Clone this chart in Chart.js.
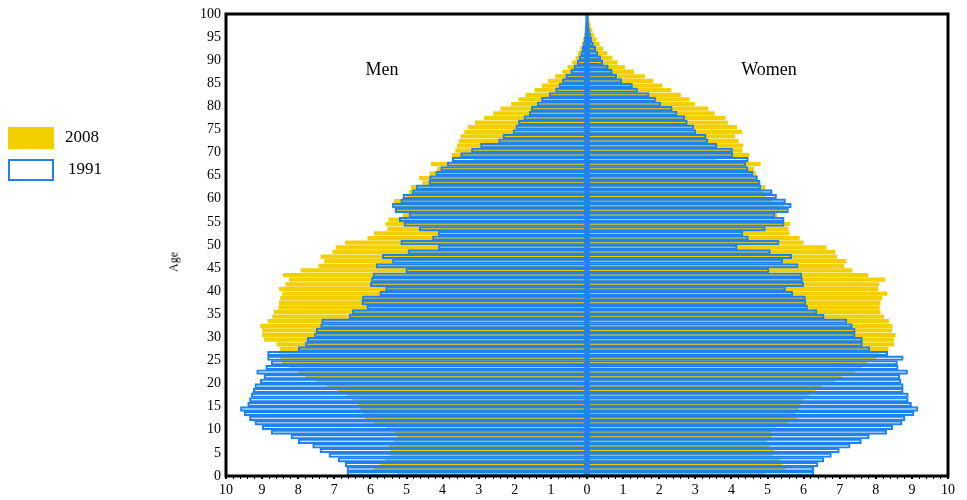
<!DOCTYPE html>
<html>
<head>
<meta charset="utf-8">
<script src="https://cdn.jsdelivr.net/npm/chart.js@4/dist/chart.umd.min.js"></script>
<style>
  body { margin: 0; background: #fff; }
  #wrap { position: relative; width: 967px; height: 500px; font-family: "Liberation Serif", serif; color: #000; }
  #pyramid { position: absolute; left: 0; top: 0; }
  .lbl { position: absolute; transform: translate(-50%, -50%); white-space: nowrap; }
  .sex { font-size: 18px; top: 69px; }
  #age { font-size: 12px; left: 174px; top: 262px; transform: translate(-50%, -50%) rotate(-90deg); }
  #legend { position: absolute; left: 7px; top: 127px; }
  #legend div { height: 32px; position: relative; font-size: 17px; }
  #legend span.box { position: absolute; left: 1px; width: 46px; height: 22px; box-sizing: border-box; }
  #legend span.txt { position: absolute; top: 10px; transform: translateY(-50%); }
</style>
</head>
<body>
<div id="wrap">
  <canvas id="pyramid" width="967" height="500"></canvas>
  <div class="lbl sex" style="left:382px">Men</div>
  <div class="lbl sex" style="left:769px">Women</div>
  <div class="lbl" id="age">Age</div>
  <div id="legend"></div>
</div>
<script>
let ages = [];
for (let a = 0; a < 100; a++) ages.push(a);

// percent of population by single year of age (0..99)
let men2008 = [5.25, 5.9, 5.75, 5.6, 5.45, 5.45, 5.5, 5.35, 5.25, 5.35,
  5.55, 5.9, 6.15, 6.2, 6.3, 6.35, 6.5, 6.65, 6.9, 7.2,
  7.5, 7.8, 8.0, 8.25, 8.45, 8.5, 8.55, 8.5, 8.6, 8.95,
  9.0, 9.0, 9.05, 8.85, 8.72, 8.67, 8.55, 8.53, 8.5, 8.44,
  8.53, 8.35, 8.25, 8.42, 7.93, 7.44, 7.28, 7.38, 7.05, 6.96,
  6.7, 6.08, 5.9, 5.53, 5.58, 5.5, 5.1, 5.3, 5.4, 5.35,
  5.0, 4.93, 4.88, 4.56, 4.65, 4.36, 4.15, 4.32, 3.15, 3.75,
  3.65, 3.6, 3.55, 3.5, 3.4, 3.3, 3.1, 2.85, 2.6, 2.4,
  2.1, 1.9, 1.7, 1.45, 1.25, 1.08, 0.88, 0.68, 0.54, 0.42,
  0.32, 0.25, 0.19, 0.14, 0.11, 0.08, 0.06, 0.04, 0.03, 0.02];

let women2008 = [4.94, 5.49, 5.41, 5.35, 5.14, 5.18, 5.05, 4.98, 5.12, 5.09,
  5.23, 5.56, 5.83, 5.76, 5.87, 5.92, 6.01, 6.15, 6.33, 6.51,
  6.86, 7.06, 7.41, 7.61, 7.75, 8.01, 8.1, 8.35, 8.51, 8.5,
  8.55, 8.45, 8.46, 8.37, 8.23, 8.13, 8.11, 8.13, 8.18, 8.32,
  8.07, 8.09, 8.26, 7.79, 7.35, 7.12, 7.19, 6.93, 6.87, 6.63,
  6.0, 5.89, 5.61, 5.58, 5.63, 5.46, 5.27, 5.5, 5.45, 5.13,
  4.94, 4.89, 4.94, 4.81, 4.74, 4.68, 4.63, 4.81, 3.6, 4.5,
  4.3, 4.32, 4.2, 4.1, 4.3, 4.16, 3.9, 3.84, 3.54, 3.36,
  2.99, 2.84, 2.6, 2.34, 2.09, 1.83, 1.6, 1.3, 1.05, 0.85,
  0.7, 0.56, 0.45, 0.35, 0.27, 0.2, 0.15, 0.1, 0.07, 0.05];

let men1991 = [6.65, 6.65, 6.7, 6.9, 7.15, 7.4, 7.6, 8.0, 8.2, 8.75,
  9.0, 9.2, 9.35, 9.5, 9.6, 9.4, 9.35, 9.3, 9.25, 9.2,
  9.05, 8.95, 9.15, 8.9, 8.75, 8.85, 8.85, 8.0, 7.8, 7.75,
  7.55, 7.5, 7.38, 7.35, 6.59, 6.5, 6.1, 6.24, 6.22, 5.74,
  5.58, 6.0, 5.97, 5.93, 5.02, 5.84, 5.39, 5.67, 4.96, 4.12,
  5.16, 4.28, 4.12, 4.65, 5.07, 5.2, 4.93, 5.32, 5.39, 5.16,
  5.1, 4.84, 4.73, 4.38, 4.36, 4.19, 4.05, 3.87, 3.73, 3.5,
  3.2, 2.95, 2.45, 2.33, 2.05, 1.97, 1.9, 1.75, 1.6, 1.54,
  1.38, 1.26, 1.05, 0.87, 0.78, 0.68, 0.59, 0.45, 0.36, 0.27,
  0.22, 0.17, 0.13, 0.1, 0.08, 0.06, 0.05, 0.04, 0.03, 0.02];

let women1991 = [6.28, 6.28, 6.4, 6.56, 6.77, 6.99, 7.29, 7.6, 7.82, 8.3,
  8.47, 8.73, 8.81, 9.06, 9.17, 8.99, 8.9, 8.9, 8.76, 8.76,
  8.7, 8.67, 8.88, 8.62, 8.6, 8.76, 8.33, 7.84, 7.63, 7.63,
  7.43, 7.43, 7.35, 7.2, 6.57, 6.37, 6.11, 6.06, 6.05, 5.7,
  5.5, 6.0, 5.97, 5.95, 5.04, 5.85, 5.42, 5.67, 5.08, 4.16,
  5.32, 4.47, 4.32, 4.94, 5.46, 5.46, 5.21, 5.58, 5.66, 5.5,
  5.25, 5.13, 4.81, 4.79, 4.72, 4.6, 4.46, 4.4, 4.47, 4.04,
  4.03, 3.6, 3.35, 3.3, 3.01, 2.96, 2.78, 2.71, 2.5, 2.36,
  2.04, 1.9, 1.72, 1.4, 1.26, 0.96, 0.82, 0.7, 0.59, 0.44,
  0.38, 0.3, 0.24, 0.18, 0.13, 0.1, 0.07, 0.05, 0.03, 0.02];

let yellow = "#f2d000";
let blue = "#1f82f0";

// each age occupies the one-year band [age, age+1] on the y scale
let toPoints = function (values, sign) {
  return values.map(function (v, i) {
    return { x: sign * v, y: ages[i] + 0.5 };
  });
};

let outlineSet = function (values, sign) {
  return {
    data: toPoints(values, sign),
    backgroundColor: "rgba(0,0,0,0)",
    borderColor: blue,
    borderWidth: 1.5,
    borderSkipped: false,
    grouped: false,
    barPercentage: 1,
    categoryPercentage: 1,
  };
};

let filledSet = function (values, sign) {
  return {
    data: toPoints(values, sign),
    backgroundColor: yellow,
    borderWidth: 0,
    grouped: false,
    barPercentage: 0.92,
    categoryPercentage: 1,
  };
};

// black box round the plot and the blue line at zero
let framePlugin = {
  id: "frame",
  afterDraw: function (chart) {
    let a = chart.chartArea;
    let ctx = chart.ctx;
    let x0 = chart.scales.x.getPixelForValue(0);
    ctx.save();
    ctx.strokeStyle = blue;
    ctx.lineWidth = 3;
    ctx.beginPath();
    ctx.moveTo(x0, a.top);
    ctx.lineTo(x0, a.bottom);
    ctx.stroke();
    ctx.strokeStyle = "#000";
    ctx.lineWidth = 3;
    ctx.strokeRect(a.left, a.top, a.right - a.left, a.bottom - a.top);
    ctx.restore();
  },
};

let isWhole = function (v) {
  return Math.abs(v - Math.round(v)) < 1e-6;
};

window.onload = function () {
  let ctx = document.getElementById("pyramid").getContext("2d");

  new Chart(ctx, {
    type: "bar",
    data: {
      datasets: [
        outlineSet(men1991, -1),
        outlineSet(women1991, 1),
        filledSet(men2008, -1),
        filledSet(women2008, 1),
      ],
    },
    options: {
      responsive: false,
      animation: false,
      indexAxis: "y",
      layout: { padding: { left: 0, right: 19, top: 14, bottom: 0 } },
      plugins: {
        legend: { display: false },
        tooltip: { enabled: false },
      },
      scales: {
        x: {
          type: "linear",
          min: -10,
          max: 10,
          afterFit: function (s) {
            s.height = 24;
          },
          border: { display: false },
          grid: {
            drawOnChartArea: false,
            drawTicks: true,
            tickLength: 3,
            color: "#000",
            lineWidth: function (c) {
              return isWhole(c.tick.value) ? 2 : 1;
            },
          },
          ticks: {
            stepSize: 0.2,
            autoSkip: false,
            maxRotation: 0,
            padding: 3,
            color: "#000",
            font: { family: "Liberation Serif", size: 14 },
            callback: function (v) {
              return isWhole(v) ? String(Math.abs(Math.round(v))) : "";
            },
          },
        },
        y: {
          type: "linear",
          min: 0,
          max: 100,
          offset: false,
          afterFit: function (s) {
            s.width = 226;
          },
          border: { display: false },
          grid: { display: false, offset: false, drawTicks: false },
          ticks: {
            stepSize: 5,
            padding: 5,
            color: "#000",
            font: { family: "Liberation Serif", size: 14 },
          },
        },
      },
    },
    plugins: [framePlugin],
  });

  let legend = document.getElementById("legend");
  legend.innerHTML =
    '<div><span class="box" style="background:' + yellow + '"></span><span class="txt" style="left:58px">2008</span></div>' +
    '<div><span class="box" style="border:2px solid ' + blue + ';background:#fff"></span><span class="txt" style="left:61px">1991</span></div>';
};
</script>
</body>
</html>
